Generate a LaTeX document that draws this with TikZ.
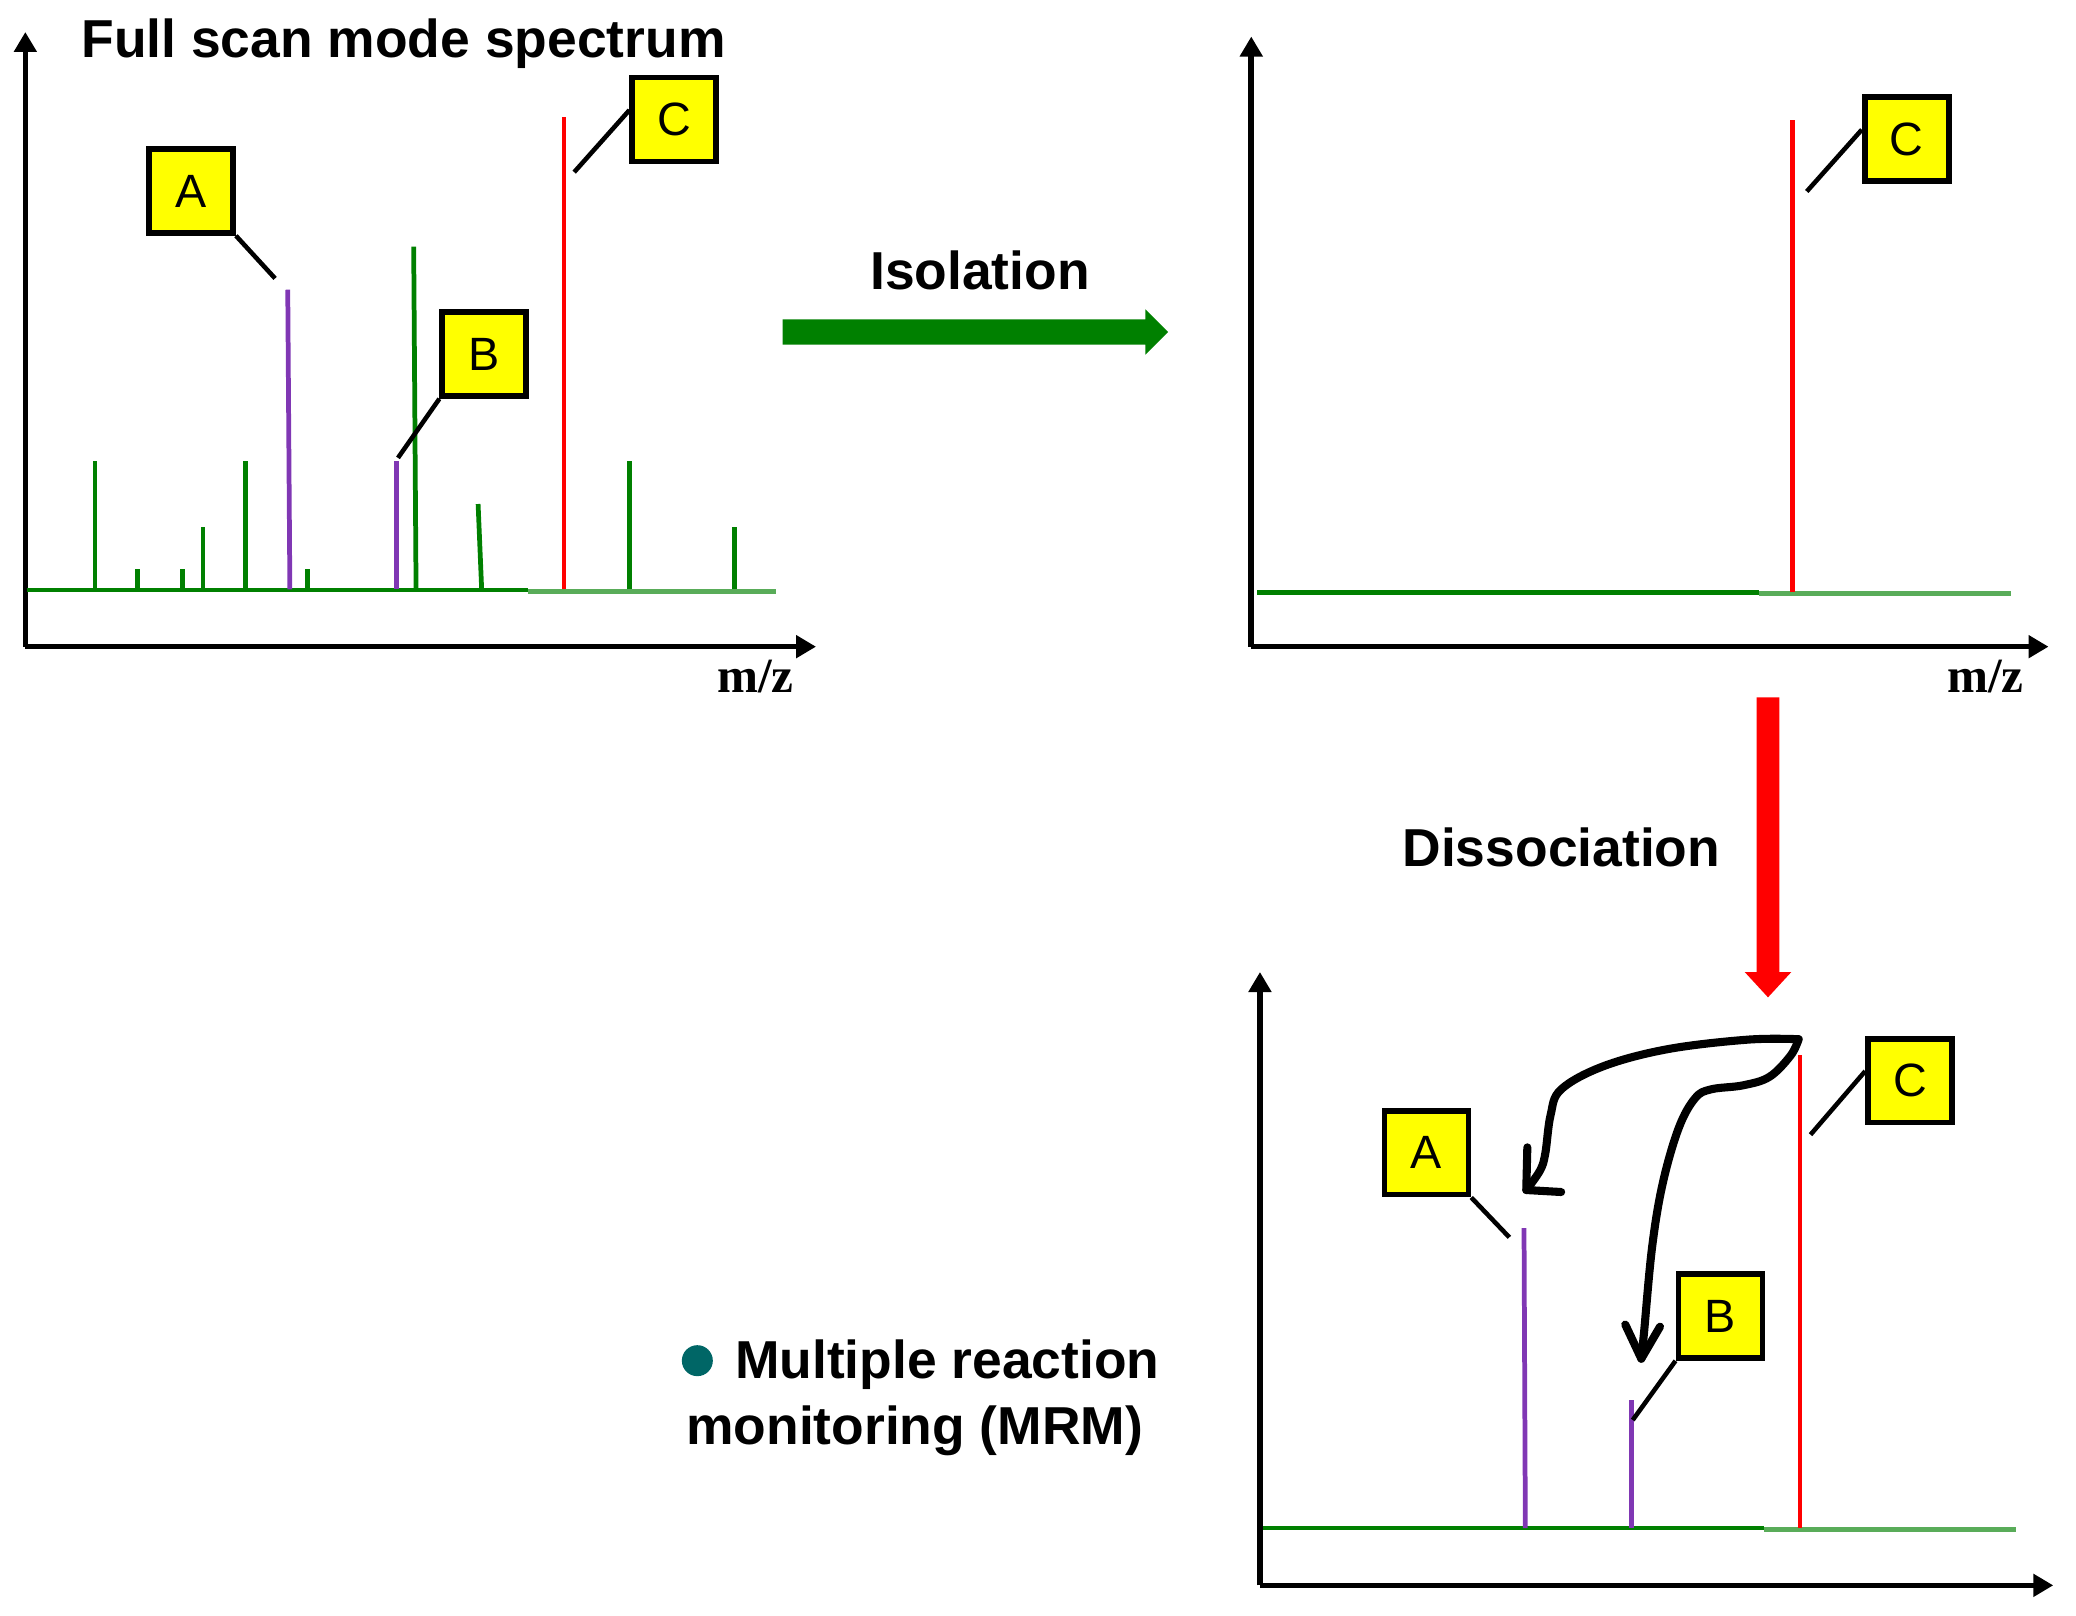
\documentclass[tikz,border=0pt]{standalone}
\usepackage{fontspec}
\setmainfont{Liberation Sans}
\newfontfamily\mzfont{Liberation Serif}
\usetikzlibrary{arrows.meta}
\definecolor{pkgreen}{RGB}{0,128,0}
\definecolor{pkpurple}{RGB}{128,55,180}
\definecolor{pkred}{RGB}{255,0,0}
\definecolor{pkyellow}{RGB}{255,255,0}
\definecolor{pkteal}{RGB}{0,102,102}
\begin{document}
\begin{tikzpicture}[x=0.013333cm,y=-0.013333cm,
  axis/.style={line width=1.6pt,-{Triangle[length=0.2cm,width=0.22cm]}},
  basel/.style={line width=1.4pt,draw=pkgreen},
  basellt/.style={line width=1.4pt,draw=pkgreen!65!white},
  gpk/.style={line width=1.35pt,draw=pkgreen},
  ppk/.style={line width=1.35pt,draw=pkpurple},
  rpk/.style={line width=1.3pt,draw=pkred},
  lbox/.style={draw=black,line width=1.6pt,fill=pkyellow,minimum size=0.84cm,inner sep=0pt,font=\fontsize{13.3}{15}\selectfont},
  leader/.style={line width=1.3pt,draw=black},
  bigtxt/.style={font=\fontsize{15.2}{18}\selectfont\bfseries,inner sep=0pt},
  mz/.style={font=\fontsize{14}{16}\selectfont\mzfont\bfseries,inner sep=0pt},
  frag/.style={line width=2.3pt,draw=black,line cap=round,line join=round},
]
\useasboundingbox (0,0) rectangle (1557,1211.25);

\begin{scope}[shift={(0,-1)}]
% ---------------- Panel 1 ----------------
\begin{scope}[shift={(19,0)},xscale=0.99,shift={(-19,0)}]
\coordinate (o1) at (19,486);
\coordinate (y1) at (19,25);
\coordinate (x1) at (618,486);
\draw[axis] (o1) -- (y1);
\draw[axis] (o1) -- (x1);
\draw[basel] (20,443.5) -- (400,443.5);
\draw[basellt] (400,444.5) -- (588,444.5);
\foreach \x/\t in {71.7/347,104/428,138/428,153.6/396,185.7/347,233/428,476.8/347,556/396}
  \draw[gpk] (\x,443) -- (\x,\t);
\draw[gpk] (315,443) -- (313.2,186);
\draw[gpk] (364.7,443) -- (362,379);
\draw[ppk] (219.4,443) -- (217.8,218.3);
\draw[ppk] (300,443) -- (300,347);
\draw[rpk] (427,443) -- (427,89);

\node[lbox] (A1) at (144.6,144.2) {A};
\node[lbox] (B1) at (366.6,266.5) {B};
\node[lbox] (C1) at (510.6,90.7) {C};
\coordinate (a1) at (208.2,209.8);
\coordinate (b1) at (301.3,344.4);
\coordinate (c1) at (434.8,130.1);
\draw[leader] (A1.south east) -- (a1);
\draw[leader] (B1.south west) -- (b1);
\draw[leader] (C1.168) -- (c1);

\node[bigtxt,anchor=base] (title) at (305.5,44) {Full scan mode spectrum};
\node[mz,anchor=base] (mz1) at (572,520) {m/z};
\end{scope}

% ---------------- Isolation arrow ----------------
\fill[pkgreen] (587,240.5) -- (859,240.5) -- (859,233) -- (876,250) -- (859,267) -- (859,259.5) -- (587,259.5) -- cycle;
\node[bigtxt,anchor=base] (iso) at (735,218) {Isolation};

% ---------------- Panel 2 ----------------
\begin{scope}[shift={(938.5,0)},xscale=0.993,shift={(-938.5,0)}]
\coordinate (o2) at (938.5,486);
\coordinate (y2) at (938.5,28.4);
\coordinate (x2) at (1540.7,486);
\draw[axis] (o2) -- (y2);
\draw[axis] (o2) -- (x2);
\draw[basel] (943,445.2) -- (1322,445.2);
\draw[basellt] (1322,446.2) -- (1512,446.2);
\draw[rpk] (1347.4,445) -- (1347.4,90.7);
\node[lbox] (C2) at (1433.5,105.4) {C};
\coordinate (c2) at (1358.1,144.6);
\draw[leader] (C2.168) -- (c2);
\node[mz,anchor=base] (mz2) at (1493,520) {m/z};
\end{scope}

% ---------------- Dissociation arrow ----------------
\fill[pkred] (1317.5,524) -- (1334.5,524) -- (1334.5,730) -- (1343.5,730) -- (1326,749) -- (1308.5,730) -- (1317.5,730) -- cycle;
\node[bigtxt,anchor=base] (diss) at (1171,651) {Dissociation};

% ---------------- Panel 3 ----------------
\begin{scope}[shift={(945,0)},xscale=0.995,shift={(-945,0)}]
\coordinate (o3) at (945,1190);
\coordinate (y3) at (945,730);
\coordinate (x3) at (1543,1190);
\draw[axis] (o3) -- (y3);
\draw[axis] (o3) -- (x3);
\draw[basel] (947,1147) -- (1325,1147);
\draw[basellt] (1325,1148) -- (1515,1148);
\draw[ppk] (1145,1147) -- (1144,922);
\draw[ppk] (1225,1147) -- (1225,1051);
\draw[rpk] (1352,1147) -- (1352,792);

\node[lbox] (A3) at (1070.5,865.5) {A};
\node[lbox] (B3) at (1292,988) {B};
\node[lbox] (C3) at (1435,811.5) {C};
\coordinate (a3) at (1133,929);
\coordinate (b3) at (1226,1066);
\coordinate (c3) at (1360,852);
\draw[leader] (A3.south east) -- (a3);
\draw[leader] (B3.south west) -- (b3);
\draw[leader] (C3.168) -- (c3);

% fragmentation arrows
\draw[frag] plot[smooth,tension=0.6] coordinates {(1351,780.4) (1313,780.7) (1252.6,787.8) (1204,800.6) (1172,818) (1164,837.4) (1160,866.3) (1156,879) (1145.7,893.5)};
\draw[frag] (1146.5,861.5) -- (1145.7,893.5) -- (1172,895);
\draw[frag] plot[smooth,tension=0.6] coordinates {(1351,780.4) (1345,792.6) (1329,808.6) (1309,815) (1285,818) (1273,824.6) (1260.6,847) (1248.5,888.7) (1240.5,936.7) (1234.4,1001) (1232.4,1020)};
\draw[frag] (1220.3,994.4) -- (1232.4,1020) -- (1246.5,996);
\end{scope}

% ---------------- MRM label ----------------
\node[circle,fill=pkteal,minimum size=0.31cm,inner sep=0pt] (bul) at (523,1021.5) {};
\node[bigtxt,anchor=base] (mrm1) at (710.5,1035) {Multiple reaction};
\node[bigtxt,anchor=base] (mrm2) at (686,1084) {monitoring (MRM)};
\end{scope}
\end{tikzpicture}
\end{document}
